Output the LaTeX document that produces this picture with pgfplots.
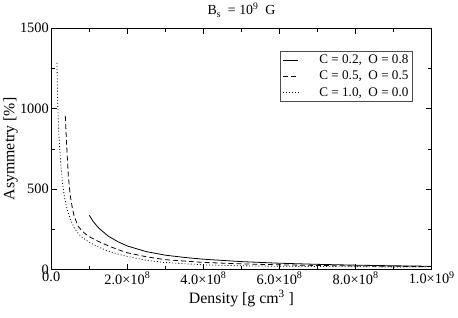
\documentclass[border=0pt]{standalone}
\usepackage{fontspec}
\setmainfont{Liberation Serif}
\usepackage{pgfplots}
\pgfplotsset{compat=1.18}
\begin{document}
\begin{tikzpicture}
\begin{axis}[
  name=ax,
  scale only axis,
  width=383bp, height=243bp,
  xmin=0, xmax=1e9, ymin=0, ymax=1500,
  xtick={0,2e8,4e8,6e8,8e8,1e9},
  xticklabels={0.0, 2.0×10\textsuperscript{8}, 4.0×10\textsuperscript{8}, 6.0×10\textsuperscript{8}, 8.0×10\textsuperscript{8}, 1.0×10\textsuperscript{9}},
  ytick={0,500,1000,1500},
  yticklabels={0,500,1000,1500},
  minor x tick num=1, minor y tick num=1,
  major tick length=6bp, minor tick length=3.5bp,
  tick style={black, line width=0.6pt},
  axis line style={line width=0.7pt},
  scaled x ticks=false,
  tick label style={font=\fontsize{14.5}{14.5}\selectfont},
  xticklabel style={yshift=1bp},
  yticklabel style={xshift=1bp},
  /pgf/number format/assume math mode=true,
  xlabel={Density [g cm\textsuperscript{3} ]},
  ylabel={Asymmetry [\%]},
  label style={font=\fontsize{16}{16}\selectfont},
  xlabel style={at={(axis description cs:0.5,-0.12)}, anchor=center},
  ylabel style={at={(axis description cs:-0.107,0.5)}, anchor=center},
  title={B\textsubscript{s} \ = 10\textsuperscript{9} \ G},
  title style={font=\fontsize{14}{14}\selectfont, at={(axis description cs:0.5,1.05)}, anchor=center},
  legend style={at={(0.95,0.905)}, anchor=north east, draw=black!70, line width=0.6pt,
    font=\fontsize{13.3}{16}\selectfont, inner xsep=2pt, inner ysep=1.5pt, row sep=2pt, cells={anchor=west}},
  legend cell align=left,
  legend image code/.code={\draw[#1] (-0.05cm,0cm) -- (0.5cm,0cm);},
]
\addplot[black, line width=0.8pt] coordinates {
(1.0e8,338) (1.1e8,300) (1.25e8,258) (1.5e8,208) (1.75e8,174) (2.0e8,147)
(2.5e8,112) (3.0e8,90) (3.5e8,76) (4.0e8,65) (5.0e8,50) (6.0e8,40)
(7.0e8,33) (8.0e8,28) (9.0e8,24) (1.0e9,21)
};
\addlegendentry{\hspace{19bp}C = 0.2, \ O = 0.8}
\addplot[black, line width=0.8pt, dash pattern=on 5bp off 3bp] coordinates {
(3.7e7,955) (4.0e7,800) (4.5e7,580) (5.0e7,460) (5.5e7,390) (6.0e7,335)
(7.0e7,272) (8.0e7,243) (9.0e7,222) (1.0e8,205) (1.2e8,180) (1.5e8,148)
(1.75e8,125) (2.0e8,105) (2.5e8,80) (3.0e8,62) (4.0e8,45) (5.0e8,36)
(6.0e8,30) (7.0e8,26) (8.0e8,23) (9.0e8,21) (1.0e9,19)
};
\addlegendentry{\hspace{19bp}C = 0.5, \ O = 0.5}
\addplot[black, line width=0.8pt, dash pattern=on 0.9bp off 2.2bp] coordinates {
(1.5e7,1284) (1.7e7,1050) (2.0e7,840) (2.5e7,660) (3.0e7,530) (3.5e7,450)
(4.0e7,390) (5.0e7,315) (6.0e7,262) (7.0e7,228) (8.0e7,203) (1.0e8,170)
(1.25e8,140) (1.5e8,115) (1.75e8,97) (2.0e8,82) (2.5e8,58) (3.0e8,44)
(4.0e8,30) (5.0e8,24) (6.0e8,21) (8.0e8,18) (1.0e9,16)
};
\addlegendentry{\hspace{19bp}C = 1.0, \ O = 0.0}
\end{axis}
\path ([xshift=-51bp,yshift=-48bp]ax.south west) rectangle ([xshift=24bp,yshift=25bp]ax.north east);
\end{tikzpicture}
\end{document}
